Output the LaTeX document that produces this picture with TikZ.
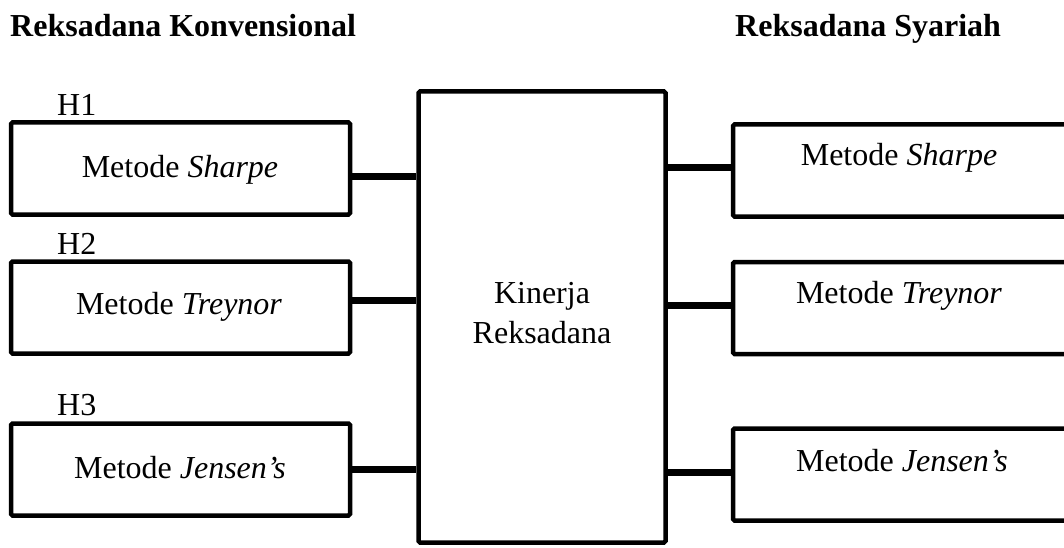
\documentclass[tikz,border=0pt]{standalone}
\usepackage{fontspec}
\setmainfont{Liberation Serif}
\begin{document}
\begin{tikzpicture}[x=1pt,y=-1pt,
  box/.style={draw, line width=4.5pt, rounded corners=1.5pt, inner sep=0pt},
  conn/.style={line width=7pt},
  lbl/.style={font=\fontsize{32}{40}\selectfont, inner sep=0pt},
  ttl/.style={font=\fontsize{32}{40}\selectfont\bfseries, inner sep=0pt}]
\clip (0,0) rectangle (1064,548);
\fill[white] (0,0) rectangle (1064,548);
% titles
\node[ttl, anchor=base west] (t1) at (10,37) {Reksadana Konvensional};
\node[ttl, anchor=base west] (t2) at (735,37) {Reksadana Syariah};
% left boxes
\node[box, minimum width=339pt, minimum height=92pt] (L1) at (180.5,168.5) {};
\node[box, minimum width=339pt, minimum height=92pt] (L2) at (180.5,307.5) {};
\node[box, minimum width=339pt, minimum height=92pt] (L3) at (180.5,469.5) {};
% centre box
\node[box, minimum width=247pt, minimum height=451pt] (C) at (542,317) {};
% right boxes
\node[box, minimum width=340pt, minimum height=92pt] (R1) at (903,170.5) {};
\node[box, minimum width=340pt, minimum height=92pt] (R2) at (903,308) {};
\node[box, minimum width=340pt, minimum height=92pt] (R3) at (903,474.5) {};
% H labels
\node[lbl, anchor=base west] (h1) at (57,116) {H1};
\node[lbl, anchor=base west] (h2) at (57,254) {H2};
\node[lbl, anchor=base west] (h3) at (57,415) {H3};
% texts
\node[lbl, anchor=base] (l1t) at (180,177) {Metode \textit{Sharpe}};
\node[lbl, anchor=base] (l2t) at (179,314) {Metode \textit{Treynor}};
\node[lbl, anchor=base] (l3t) at (180,478) {Metode \textit{Jensen’s}};
\node[lbl, anchor=base] (r1t) at (899,165) {Metode \textit{Sharpe}};
\node[lbl, anchor=base] (r2t) at (899,303) {Metode \textit{Treynor}};
\node[lbl, anchor=base] (r3t) at (902,471) {Metode \textit{Jensen’s}};
\node[lbl, align=center] (ct) at ([yshift=4pt]C.center) {Kinerja\\Reksadana};
% connectors
\draw[conn] ([yshift=-8pt]L1.east) -- ([yshift=-8pt]L1.east -| C.west);
\draw[conn] ([yshift=7.5pt]L2.east) -- ([yshift=7.5pt]L2.east -| C.west);
\draw[conn] (L3.east) -- (L3.east -| C.west);
\draw[conn] ([yshift=2.5pt]R1.west) -- ([yshift=2.5pt]R1.west -| C.east);
\draw[conn] ([yshift=3pt]R2.west) -- ([yshift=3pt]R2.west -| C.east);
\draw[conn] ([yshift=2.5pt]R3.west) -- ([yshift=2.5pt]R3.west -| C.east);
\end{tikzpicture}
\end{document}
